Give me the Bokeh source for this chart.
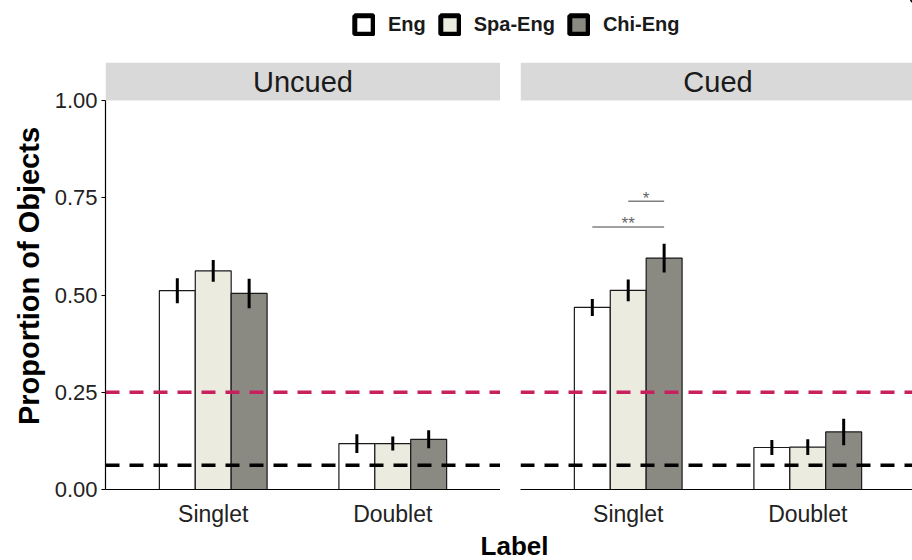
from bokeh.plotting import figure
from bokeh.models import (Range1d, FixedTicker, PrintfTickFormatter, Span, BoxAnnotation,
                          Label, Legend, LegendItem)
from bokeh.layouts import column, row
from bokeh.embed import file_html
from bokeh.resources import INLINE
from bokeh.core.properties import value

# ---------------- data ----------------
labels = ["Singlet", "Doublet"]
groups = ["Eng", "Spa-Eng", "Chi-Eng"]
panels = ["Uncued", "Cued"]
colors = ["#ffffff", "#ecebdf", "#8a8a82"]

uncued_eng = [0.511, 0.118]
uncued_spa = [0.562, 0.118]
uncued_chi = [0.504, 0.129]
uncued_eng_se = [0.032, 0.024]
uncued_spa_se = [0.028, 0.018]
uncued_chi_se = [0.038, 0.023]

cued_eng = [0.468, 0.108]
cued_spa = [0.512, 0.109]
cued_chi = [0.595, 0.148]
cued_eng_se = [0.022, 0.019]
cued_spa_se = [0.028, 0.020]
cued_chi_se = [0.037, 0.034]

chance_four = 0.25
chance_sixteen = 0.0625

sig_from = ["Eng", "Spa-Eng"]
sig_to = ["Chi-Eng", "Chi-Eng"]
sig_label = ["Singlet", "Singlet"]
sig_y = [0.675, 0.741]
sig_text = ["**", "*"]

y_ticks = [0, 0.25, 0.5, 0.75, 1.0]

# ---------------- style ----------------
FONT = "Liberation Sans"
PANEL_W = 395
FRAME_H = 427
STRIP_TOP = 1.0 + 38.0 / 389.0
BAR_W = 0.2
X_SPAN = len(labels) + 0.2  # 0.4 .. 2.6


def xpos(label, group):
    return labels.index(label) + 1 + (groups.index(group) - 1) * BAR_W


def make_panel(title, means, ses, first, frame_w, sig=False):
    x_end = 0.4 + X_SPAN * frame_w / PANEL_W
    p = figure(frame_width=frame_w, frame_height=FRAME_H,
               x_range=Range1d(0.4, x_end), y_range=Range1d(0, STRIP_TOP),
               output_backend="svg", toolbar_location=None,
               min_border_left=105 if first else 20, min_border_right=0,
               min_border_top=22, min_border_bottom=41)
    p.outline_line_color = None
    p.xgrid.visible = False
    p.ygrid.visible = False
    p.background_fill_color = "white"

    # strip
    p.add_layout(BoxAnnotation(bottom=1.0, fill_color="#d9d9d9", fill_alpha=1.0,
                               line_color=None, level="underlay"))
    p.add_layout(Label(x=(len(labels) + 1) / 2, y=(1.0 + STRIP_TOP) / 2, text=title,
                       text_align="center", text_baseline="middle",
                       text_font=FONT, text_font_size="29px", text_color="#1a1a1a"))

    for j, g in enumerate(groups):
        xs = [xpos(lab, g) for lab in labels]
        m = means[g]
        s = ses[g]
        p.vbar(x=xs, top=m, bottom=0, width=BAR_W, fill_color=colors[j],
               line_color="#1a1a1a", line_width=1.2)
        p.segment(x0=xs, x1=xs, y0=[a - b for a, b in zip(m, s)],
                  y1=[a + b for a, b in zip(m, s)], line_color="black", line_width=3)

    p.add_layout(Span(location=chance_four, dimension="width", line_color="#c7215d",
                      line_dash="14 10", line_width=3.5))
    p.add_layout(Span(location=chance_sixteen, dimension="width", line_color="black",
                      line_dash="14 10", line_width=3.5))

    if sig:
        x0 = [xpos(l, a) for l, a in zip(sig_label, sig_from)]
        x1 = [xpos(l, b) for l, b in zip(sig_label, sig_to)]
        p.segment(x0=x0, x1=x1, y0=sig_y, y1=sig_y, line_color="#808080", line_width=1.5)
        p.text(x=[(a + b) / 2 for a, b in zip(x0, x1)], y=sig_y, text=sig_text,
               text_align="center", text_baseline="alphabetic", y_offset=-3,
               text_font=value(FONT), text_font_size="17px", text_color="#666666")

    # x axis
    xa = p.xaxis[0]
    xa.ticker = FixedTicker(ticks=[i + 1 for i in range(len(labels))])
    xa.major_label_overrides = {i + 1: lab for i, lab in enumerate(labels)}
    xa.major_tick_line_color = None
    xa.major_tick_out = 0
    xa.major_tick_in = 0
    xa.minor_tick_line_color = None
    xa.axis_line_color = "black"
    xa.axis_line_width = 1.2
    xa.major_label_standoff = 11
    xa.major_label_text_font = FONT
    xa.major_label_text_font_size = "23px"
    xa.major_label_text_color = "#222222"

    # y axis
    ya = p.yaxis[0]
    if first:
        ya.ticker = FixedTicker(ticks=y_ticks)
        ya.formatter = PrintfTickFormatter(format="%.2f")
        ya.bounds = (0, 1)
        ya.axis_line_color = "black"
        ya.axis_line_width = 1.2
        ya.major_tick_line_color = "black"
        ya.major_tick_line_width = 1.2
        ya.major_tick_out = 4
        ya.major_tick_in = 0
        ya.minor_tick_line_color = None
        ya.major_label_standoff = 4
        ya.major_label_text_font = FONT
        ya.major_label_text_font_size = "22px"
        ya.major_label_text_color = "#222222"
        ya.axis_label = "Proportion of Objects"
        ya.axis_label_text_font = FONT
        ya.axis_label_text_font_style = "bold"
        ya.axis_label_text_font_size = "29px"
        ya.axis_label_text_color = "black"
        ya.axis_label_standoff = 7
    else:
        ya.visible = False
    return p


p1 = make_panel(panels[0],
                {"Eng": uncued_eng, "Spa-Eng": uncued_spa, "Chi-Eng": uncued_chi},
                {"Eng": uncued_eng_se, "Spa-Eng": uncued_spa_se, "Chi-Eng": uncued_chi_se},
                True, 395)
p2 = make_panel(panels[1],
                {"Eng": cued_eng, "Spa-Eng": cued_spa, "Chi-Eng": cued_chi},
                {"Eng": cued_eng_se, "Spa-Eng": cued_spa_se, "Chi-Eng": cued_chi_se},
                False, 392, sig=True)

# ---------------- legend strip ----------------
leg = figure(frame_width=912, frame_height=40, min_border=0, output_backend="svg",
             toolbar_location=None, x_range=Range1d(0, 1), y_range=Range1d(0, 1))
leg.axis.visible = False
leg.xgrid.visible = False
leg.ygrid.visible = False
leg.outline_line_color = None
items = []
for j, g in enumerate(groups):
    # key-only renderers, kept outside the visible range
    r = leg.vbar(x=[5], top=[5], bottom=[4], width=0.1, fill_color=colors[j],
                 line_color="black", line_width=5)
    items.append(LegendItem(label=g, renderers=[r]))
legend = Legend(items=items, orientation="horizontal", location=(352, 4),
                glyph_width=23, glyph_height=23, label_standoff=13, spacing=12,
                padding=0, margin=0, border_line_color=None, background_fill_alpha=0,
                label_text_font=FONT, label_text_font_style="bold",
                label_text_font_size="20px", label_text_color="#1a1a1a")
leg.add_layout(legend, "center")

# ---------------- x axis title ----------------
lab = figure(frame_width=912, frame_height=30, min_border=0, output_backend="svg",
             toolbar_location=None, x_range=Range1d(0, 912), y_range=Range1d(0, 30))
lab.axis.visible = False
lab.xgrid.visible = False
lab.ygrid.visible = False
lab.outline_line_color = None
lab.add_layout(Label(x=514, y=15, text="Label",
                     text_align="center", text_baseline="middle",
                     text_font=FONT, text_font_style="bold",
                     text_font_size="26px", text_color="black"))

layout = column(leg, row(p1, p2), lab)

with open("out.html", "w") as f:
    f.write(file_html(layout, INLINE))
